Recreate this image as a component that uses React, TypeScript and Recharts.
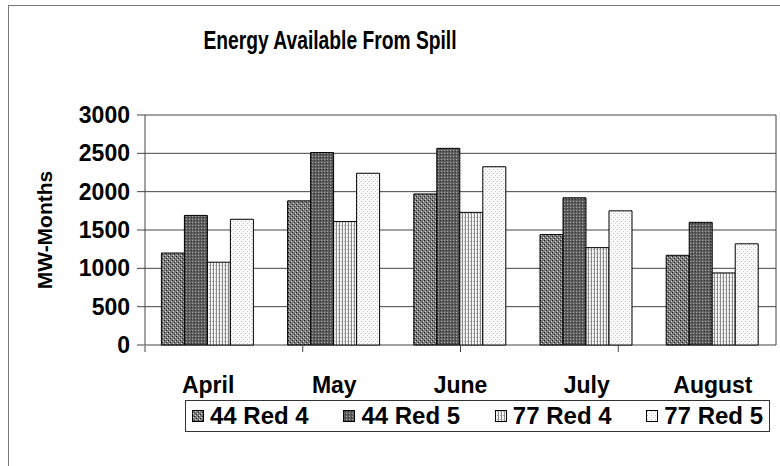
import React from "react"
import { BarChart, Bar, XAxis, YAxis, CartesianGrid, Legend } from "recharts"

const months = ["April", "May", "June", "July", "August"]
const red44_4 = [1200, 1880, 1970, 1440, 1170]
const red44_5 = [1690, 2510, 2565, 1920, 1600]
const red77_4 = [1080, 1610, 1730, 1270, 940]
const red77_5 = [1640, 2240, 2325, 1750, 1320]
const yTicks = [0, 500, 1000, 1500, 2000, 2500, 3000]
const boundaryTicks = [0, 1, 2, 3, 4, 5]

const seriesNames = ["44 Red 4", "44 Red 5", "77 Red 4", "77 Red 5"]
const fills = ["url(#p1)", "url(#p2)", "url(#p3)", "url(#p4)"]

const chartData = months.map((m, i) => ({
  month: m,
  "44 Red 4": red44_4[i],
  "44 Red 5": red44_5[i],
  "77 Red 4": red77_4[i],
  "77 Red 5": red77_5[i],
}))

const font = "'Liberation Sans', Arial, sans-serif"

function LegendBox() {
  return (
    <div
      style={{
        display: "flex",
        alignItems: "center",
        justifyContent: "space-between",
        boxSizing: "border-box",
        width: 585,
        height: 32,
        border: "1px solid #333",
        padding: "0 6px",
        background: "#fff",
        fontFamily: font,
        fontWeight: "bold",
        fontSize: 24,
        color: "#000",
        whiteSpace: "nowrap",
      }}
    >
      {seriesNames.map((name, i) => (
        <span key={name} style={{ display: "inline-flex", alignItems: "center" }}>
          <svg width={12} height={12} style={{ marginRight: 6 }}>
            <rect x={0.5} y={0.5} width={11} height={11} fill={fills[i]} stroke="#000" />
          </svg>
          {name}
        </span>
      ))}
    </div>
  )
}

export default function App() {
  return (
    <div style={{ position: "absolute", left: 0, top: 0, width: 780, height: 466, background: "#fff" }}>
      <div
        style={{
          position: "absolute",
          left: 8,
          top: 5,
          width: 772,
          height: 461,
          borderLeft: "1px solid #777",
          borderTop: "1px solid #777",
        }}
      />
      <div
        style={{
          position: "absolute",
          left: 130,
          top: 25,
          width: 400,
          textAlign: "center",
          fontFamily: font,
          fontWeight: "bold",
          fontSize: 26,
          color: "#000",
          transform: "scaleX(0.74)",
        }}
      >
        Energy Available From Spill
      </div>
      <BarChart
        width={780}
        height={466}
        data={chartData}
        margin={{ top: 115, right: 0, left: 0, bottom: 34 }}
        barCategoryGap="13%"
        barGap={0}
      >
        <defs>
          <pattern id="p1" width="4" height="4" patternUnits="userSpaceOnUse">
            <rect width="4" height="4" fill="#7a7a7a" />
            <rect x="0" y="0" width="1" height="1" fill="#222" />
            <rect x="2" y="2" width="1" height="1" fill="#222" />
            <rect x="1" y="3" width="1" height="1" fill="#ddd" />
            <rect x="3" y="1" width="1" height="1" fill="#ddd" />
          </pattern>
          <pattern id="p2" width="3" height="3" patternUnits="userSpaceOnUse">
            <rect width="3" height="3" fill="#5e5e5e" />
            <rect x="0" y="0" width="1" height="1" fill="#aaa" />
            <rect x="2" y="1" width="1" height="1" fill="#333" />
          </pattern>
          <pattern id="p3" width="3" height="4" patternUnits="userSpaceOnUse">
            <rect width="3" height="4" fill="#f2f2f2" />
            <rect x="0" y="0" width="1" height="4" fill="#8a8a8a" />
            <rect x="2" y="1" width="1" height="1" fill="#aaa" />
          </pattern>
          <pattern id="p4" width="4" height="4" patternUnits="userSpaceOnUse">
            <rect width="4" height="4" fill="#fafafa" />
            <rect x="1" y="1" width="1" height="1" fill="#bbb" />
            <rect x="3" y="3" width="1" height="1" fill="#ccc" />
          </pattern>
        </defs>
        <CartesianGrid vertical={false} stroke="#444" strokeWidth={1} />
        <XAxis
          dataKey="month"
          axisLine={false}
          tickLine={false}
          tickMargin={26}
          height={1}
          tick={{ fill: "#000", fontFamily: font, fontWeight: "bold", fontSize: 23 }}
        />
        <XAxis
          xAxisId="b"
          type="number"
          domain={[0, 5]}
          ticks={boundaryTicks}
          tick={() => <g />}
          tickLine={{ stroke: "#444" }}
          tickSize={6}
          axisLine={false}
          height={54}
        />
        <YAxis
          domain={[0, 3000]}
          ticks={yTicks}
          width={145}
          tickSize={8}
          tickMargin={7}
          axisLine={{ stroke: "#444" }}
          tickLine={{ stroke: "#444" }}
          tick={{ fill: "#000", fontFamily: font, fontWeight: "bold", fontSize: 23 }}
          label={{
            value: "MW-Months",
            angle: -90,
            position: "center",
            dx: -28,
            style: { fill: "#000", fontFamily: font, fontWeight: "bold", fontSize: 21 },
          }}
        />
        <YAxis yAxisId="r" orientation="right" width={4} tick={false} tickLine={false} axisLine={{ stroke: "#444" }} />
        <Legend content={() => <LegendBox />} wrapperStyle={{ left: 185, width: 585 }} />
        {seriesNames.map((name, i) => (
          <Bar key={name} dataKey={name} fill={fills[i]} stroke="#000" strokeWidth={1} isAnimationActive={false} />
        ))}
      </BarChart>
    </div>
  )
}
